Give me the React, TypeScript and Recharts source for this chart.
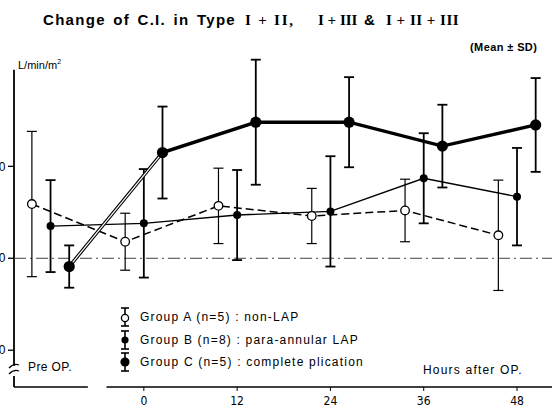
import React from 'react';
import { ComposedChart, Line, XAxis, YAxis, ErrorBar, ReferenceLine } from 'recharts';

// hours after operation; -12 stands for "Pre OP."
const hours = [-12, 0, 12, 24, 36, 48];
const hourTicks = [0, 12, 24, 36, 48];
const ciTicks = [2, 3, 4];

// C.I. (L/min/m2), mean and SD per group
const groupAMean = [3.59, 3.18, 3.57, 3.46, 3.52, 3.25];
const groupASd = [0.79, 0.31, 0.41, 0.30, 0.34, 0.60];
const groupBMean = [3.35, 3.38, 3.47, 3.51, 3.87, 3.67];
const groupBSd = [0.50, 0.59, 0.49, 0.60, 0.49, 0.53];
const groupCMean = [2.91, 4.15, 4.48, 4.48, 4.22, 4.45];
const groupCSd = [0.23, 0.50, 0.68, 0.49, 0.45, 0.51];

// groups are drawn side by side around each time point
const shiftA = -2.4;
const shiftC = 2.4;

const legendRows = [
  { key: 'A', label: 'Group A (n=5) : non-LAP' },
  { key: 'B', label: 'Group B (n=8) : para-annular LAP' },
  { key: 'C', label: 'Group C (n=5) : complete plication' },
];

const toRows = (mean: number[], sd: number[], shift: number) =>
  hours.map((h, i) => ({ x: h + shift, ci: mean[i], sd: sd[i] }));

const rowsA = toRows(groupAMean, groupASd, shiftA);
const rowsB = toRows(groupBMean, groupBSd, 0);
const rowsC = toRows(groupCMean, groupCSd, shiftC);
const rowsCFirst = rowsC.slice(0, 2);

const X_DOMAIN: [number, number] = [-16.7, 52.5];
const Y_DOMAIN: [number, number] = [1.6, 5.2];

const dotA = (p: any) => (
  <circle key={`a${p.index}`} cx={p.cx} cy={p.cy} r={4.3} fill="#fff" stroke="#000" strokeWidth={1.3} />
);
const dotB = (p: any) => <circle key={`b${p.index}`} cx={p.cx} cy={p.cy} r={4} fill="#000" />;
const dotC = (p: any) => <circle key={`c${p.index}`} cx={p.cx} cy={p.cy} r={5.6} fill="#000" />;

// y labels sit mostly past the left edge, as in the scanned figure
const CiTick = (p: any) => (
  <text x={p.x - 0.5} y={p.y} dy="0.35em" textAnchor="end" fontSize={12} fill="#000" stroke="none">
    {Number(p.payload.value).toFixed(1)}
  </text>
);

const LegendIcon = ({ kind }: { kind: string }) => (
  <svg width={14} height={22} style={{ display: 'block' }}>
    <line x1={7} y1={2} x2={7} y2={20} stroke="#000" strokeWidth={1.6} />
    <line x1={3} y1={2} x2={11} y2={2} stroke="#000" strokeWidth={1.6} />
    <line x1={3} y1={20} x2={11} y2={20} stroke="#000" strokeWidth={1.6} />
    {kind === 'A' && <circle cx={7} cy={12} r={3.6} fill="#fff" stroke="#000" strokeWidth={1.3} />}
    {kind === 'B' && <circle cx={7} cy={11} r={3.6} fill="#000" />}
    {kind === 'C' && <circle cx={7} cy={11} r={4.6} fill="#000" />}
  </svg>
);

const serif: React.CSSProperties = {
  position: 'absolute',
  top: 0,
  fontFamily: '"Liberation Serif", serif',
  fontWeight: 'bold',
  fontSize: 15,
  whiteSpace: 'pre',
};

export default function App() {
  return (
    <div
      style={{
        position: 'fixed',
        left: 0,
        top: 0,
        width: 552,
        height: 408,
        background: '#fff',
        overflow: 'hidden',
        fontFamily: '"Liberation Sans", Arial, sans-serif',
        color: '#000',
      }}
    >
      <div style={{ position: 'absolute', top: 10, left: 0, width: 552, height: 20, lineHeight: '20px' }}>
        <span
          style={{
            position: 'absolute',
            left: 43,
            top: 0,
            fontSize: 15,
            fontWeight: 'bold',
            letterSpacing: 1.3,
            wordSpacing: 2,
            whiteSpace: 'pre',
          }}
        >
          Change of C.I. in Type
        </span>
        <span style={{ ...serif, left: 245, letterSpacing: 1.8 }}>I + II,</span>
        <span style={{ ...serif, left: 318 }}>I + III</span>
        <span style={{ position: 'absolute', left: 364, top: 0, fontSize: 15, fontWeight: 'bold' }}>&amp;</span>
        <span style={{ ...serif, left: 386, letterSpacing: 0.5 }}>I + II + III</span>
      </div>

      <div
        style={{ position: 'absolute', top: 40, left: 470, fontSize: 11, fontWeight: 'bold', lineHeight: '14px', letterSpacing: 0.4 }}
      >
        (Mean ± SD)
      </div>
      <div style={{ position: 'absolute', top: 55, left: 18, fontSize: 11, lineHeight: '14px' }}>
        L/min/m<sup style={{ fontSize: 7 }}>2</sup>
      </div>

      <ComposedChart width={552} height={408} margin={{ top: 56, right: 0, bottom: 0, left: 0 }}>
        <XAxis
          dataKey="x"
          type="number"
          domain={X_DOMAIN}
          ticks={hourTicks}
          axisLine={false}
          tickLine={{ stroke: '#000', strokeWidth: 1 }}
          tickSize={4}
          tickMargin={5}
          height={21}
          tick={{
            fill: '#000',
            fontSize: 12,
            fontFamily: '"Liberation Sans Narrow", "DejaVu Sans Condensed", "Liberation Sans", sans-serif',
          }}
        />
        <YAxis
          type="number"
          domain={Y_DOMAIN}
          ticks={ciTicks}
          width={14}
          axisLine={false}
          tickLine={{ stroke: '#000', strokeWidth: 1.3 }}
          tickSize={6}
          tickMargin={2}
          tick={CiTick}
        />

        {/* axes drawn as segments so they can carry the breaks */}
        <ReferenceLine segment={[{ x: X_DOMAIN[0], y: 1.83 }, { x: X_DOMAIN[0], y: 5.05 }]} stroke="#000" strokeWidth={1.8} ifOverflow="visible" />
        <ReferenceLine segment={[{ x: X_DOMAIN[0], y: Y_DOMAIN[0] }, { x: X_DOMAIN[0], y: 1.72 }]} stroke="#000" strokeWidth={1.8} ifOverflow="visible" />
        <ReferenceLine segment={[{ x: X_DOMAIN[0], y: Y_DOMAIN[0] }, { x: -7.2, y: Y_DOMAIN[0] }]} stroke="#000" strokeWidth={1.6} ifOverflow="visible" />
        <ReferenceLine segment={[{ x: -4.8, y: Y_DOMAIN[0] }, { x: X_DOMAIN[1], y: Y_DOMAIN[0] }]} stroke="#000" strokeWidth={1.6} ifOverflow="visible" />
        <ReferenceLine y={3} stroke="#444" strokeWidth={1} strokeDasharray="12 4 2 4" />

        <Line
          data={rowsA}
          dataKey="ci"
          stroke="#000"
          strokeWidth={1.5}
          strokeDasharray="8 4"
          dot={dotA}
          activeDot={false}
          isAnimationActive={false}
        >
          <ErrorBar dataKey="sd" direction="y" width={5} stroke="#000" strokeWidth={1.2} strokeDasharray="none" />
        </Line>
        <Line
          data={rowsB}
          dataKey="ci"
          stroke="#000"
          strokeWidth={1.4}
          dot={dotB}
          activeDot={false}
          isAnimationActive={false}
        >
          <ErrorBar dataKey="sd" direction="y" width={5} stroke="#000" strokeWidth={1.8} />
        </Line>
        <Line
          data={rowsC}
          dataKey="ci"
          stroke="#000"
          strokeWidth={3.4}
          dot={false}
          activeDot={false}
          isAnimationActive={false}
        >
          <ErrorBar dataKey="sd" direction="y" width={5} stroke="#000" strokeWidth={1.8} />
        </Line>
        <Line
          data={rowsCFirst}
          dataKey="ci"
          stroke="#fff"
          strokeWidth={1.2}
          dot={false}
          activeDot={false}
          isAnimationActive={false}
        />
        <Line data={rowsC} dataKey="ci" stroke="none" dot={dotC} activeDot={false} isAnimationActive={false} />
      </ComposedChart>

      {/* axis break mark on the y axis */}
      <svg width={552} height={408} style={{ position: 'absolute', left: 0, top: 0, pointerEvents: 'none' }}>
        <path d="M9 368 Q14 363 19 365" fill="none" stroke="#000" strokeWidth={1.3} />
        <path d="M9 374 Q14 369 19 371" fill="none" stroke="#000" strokeWidth={1.3} />
      </svg>

      <div style={{ position: 'absolute', top: 359, left: 28, fontSize: 12, lineHeight: '16px', letterSpacing: 0.4 }}>
        Pre OP.
      </div>
      <div style={{ position: 'absolute', top: 362, left: 423, fontSize: 12, lineHeight: '16px', letterSpacing: 1.2 }}>
        Hours after OP.
      </div>

      <div style={{ position: 'absolute', left: 118, top: 306 }}>
        {legendRows.map((r) => (
          <div key={r.key} style={{ display: 'flex', alignItems: 'center', height: 22.5 }}>
            <LegendIcon kind={r.key} />
            <span style={{ marginLeft: 8, fontSize: 12, letterSpacing: 1.2, whiteSpace: 'pre' }}>{r.label}</span>
          </div>
        ))}
      </div>
    </div>
  );
}
